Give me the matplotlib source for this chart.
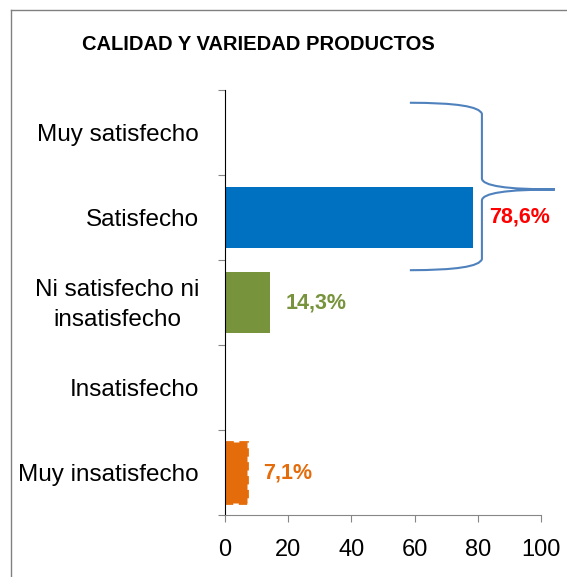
import matplotlib.pyplot as plt
from matplotlib.path import Path
from matplotlib.patches import PathPatch
from matplotlib.lines import Line2D

categories = ["Muy satisfecho", "Satisfecho", "Ni satisfecho ni\ninsatisfecho",
              "Insatisfecho", "Muy insatisfecho"]
values = [0, 78.6, 14.3, 0, 7.1]
labels = ["", "78,6%", "14,3%", "", "7,1%"]
bar_colors = ["#0070C0", "#0070C0", "#77933C", "#E46C0A", "#E46C0A"]
label_colors = ["red", "red", "#77933C", "#E46C0A", "#E46C0A"]
xticks = [0, 20, 40, 60, 80, 100]

plt.rcParams['font.family'] = ['Liberation Sans', 'DejaVu Sans']

fig = plt.figure(figsize=(5.67, 5.77), dpi=100)
ax = fig.add_axes([225 / 567, 62 / 577, 316 / 567, 425 / 577])

ys = list(range(len(categories)))
bars = ax.barh(ys, values, height=0.72, color=bar_colors)
# dashed outline on the last bar
bars[4].set_edgecolor("#E46C0A")
bars[4].set_linestyle((0, (3, 2)))
bars[4].set_linewidth(2)

ax.set_ylim(4.5, -0.5)
ax.set_xlim(0, 100)
ax.set_xticks(xticks)
ax.set_xticklabels([str(t) for t in xticks], fontsize=17)
ax.set_yticks([i - 0.5 for i in range(len(categories) + 1)])
ax.set_yticklabels([])
for i, c in enumerate(categories):
    ax.text(-8.2, i + 0.03, c, ha='right', va='center', multialignment='center',
            fontsize=17.5, linespacing=1.45, transform=ax.transData)

ax.tick_params(axis='both', length=5, color='#868686', direction='out')
ax.tick_params(axis='x', pad=12)
ax.spines['top'].set_visible(False)
ax.spines['right'].set_visible(False)
ax.spines['left'].set_color('black')
ax.spines['bottom'].set_color('#868686')

for i, (v, lab) in enumerate(zip(values, labels)):
    if lab:
        ax.text(v + 5, i, lab, ha='left', va='center', fontsize=15.5,
                fontweight='bold', color=label_colors[i])

# curly brace next to "Satisfecho"
x0, x1, x2 = 58.5, 81.3, 104.4
yt, ym, yb = -0.35, 0.67, 1.62
d = 0.13
verts = [(x0, yt), (x1 - 1, yt), (x1, yt + d),
         (x1, ym - d),
         (x1, ym), (x2, ym),
         (x1, ym), (x1, ym + d),
         (x1, yb - d),
         (x1 - 1, yb), (x0, yb)]
codes = [Path.MOVETO, Path.CURVE3, Path.CURVE3,
         Path.LINETO,
         Path.CURVE3, Path.CURVE3,
         Path.CURVE3, Path.CURVE3,
         Path.LINETO,
         Path.CURVE3, Path.CURVE3]
ax.add_patch(PathPatch(Path(verts, codes), fill=False, edgecolor='#4F81BD',
                       linewidth=1.5, clip_on=False))

fig.text(258 / 567, 1 - 45 / 577, "CALIDAD Y VARIEDAD PRODUCTOS", ha='center',
         va='center', fontsize=14.5, fontweight='bold')

# chart area border (left and top edges visible)
fig.add_artist(Line2D([11 / 567, 11 / 567], [0, 1 - 10 / 577],
                      color='#808080', linewidth=1, transform=fig.transFigure))
fig.add_artist(Line2D([11 / 567, 1], [1 - 10 / 577, 1 - 10 / 577],
                      color='#808080', linewidth=1, transform=fig.transFigure))

fig.savefig("out.png", dpi=100)
